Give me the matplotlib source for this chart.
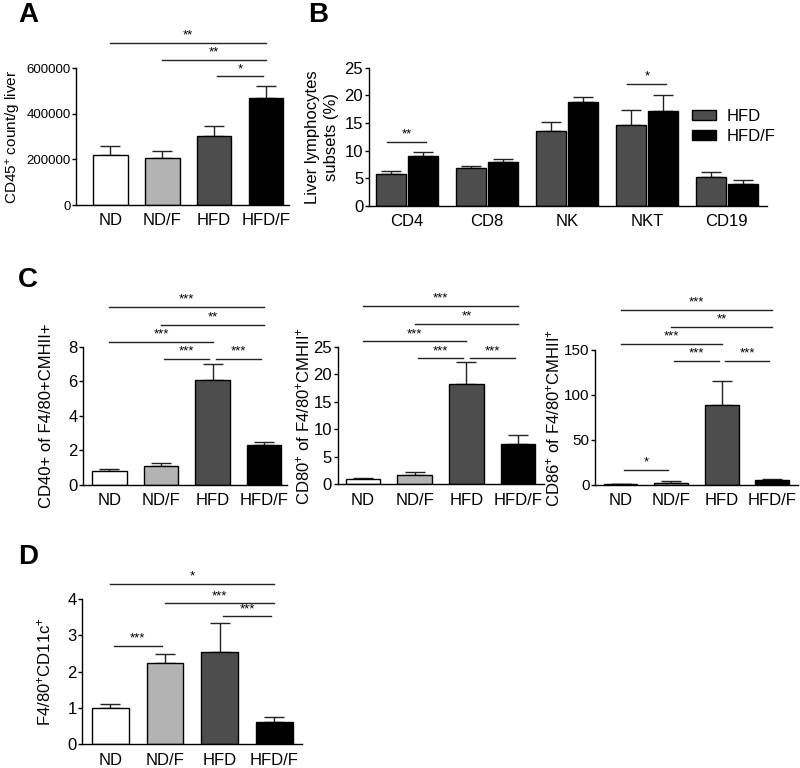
import matplotlib
matplotlib.use("Agg")
import matplotlib.pyplot as plt
from matplotlib.patches import Patch

plt.rcParams['font.family'] = ['Liberation Sans', 'DejaVu Sans']
plt.rcParams['mathtext.fontset'] = 'custom'
plt.rcParams['mathtext.rm'] = 'Liberation Sans'
plt.rcParams['mathtext.default'] = 'regular'

# ---- data ----
groups = ["ND", "ND/F", "HFD", "HFD/F"]
group_colors = ["white", "#b3b3b3", "#4d4d4d", "black"]

# A: CD45+ count / g liver
a_mean = [218000, 206000, 302000, 470000]
a_err = [42000, 31000, 47000, 54000]
a_sig = [(0, 3, 712000, "**"), (1, 3, 636000, "**"), (2, 3, 565000, "*")]

# B: liver lymphocyte subsets
b_subsets = ["CD4", "CD8", "NK", "NKT", "CD19"]
b_hfd = [5.75, 6.77, 13.5, 14.7, 5.25]
b_hfd_err = [0.55, 0.5, 1.6, 2.7, 0.8]
b_hfdf = [9.05, 7.86, 18.7, 17.2, 3.9]
b_hfdf_err = [0.7, 0.55, 1.05, 2.85, 0.75]
b_sig = [(0, 11.6, "**"), (3, 22.0, "*")]

# C: CD40 / CD80 / CD86 of F4/80+CMHII+
c40_mean = [0.82, 1.1, 6.1, 2.3]
c40_err = [0.12, 0.2, 0.9, 0.2]
c40_sig = [(0, 3, 10.3, "***"), (1, 3, 9.25, "**"), (0, 2, 8.28, "***"),
           (1, 2, 7.28, "***"), (2, 3, 7.28, "***")]

c80_mean = [0.97, 1.63, 18.2, 7.3]
c80_err = [0.25, 0.55, 4.0, 1.6]
c80_sig = [(0, 3, 32.4, "***"), (1, 3, 29.2, "**"), (0, 2, 26.0, "***"),
           (1, 2, 22.9, "***"), (2, 3, 22.9, "***")]

c86_mean = [0.8, 2.5, 88.5, 5.5]
c86_err = [0.3, 2.0, 27.0, 1.6]
c86_sig = [(0, 3, 194.4, "***"), (1, 3, 175.2, "**"), (0, 2, 156.7, "***"),
           (1, 2, 137.4, "***"), (2, 3, 137.4, "***"), (0, 1, 16.7, "*")]

# D: F4/80+CD11c+
d_mean = [0.99, 2.24, 2.55, 0.625]
d_err = [0.11, 0.24, 0.78, 0.115]
d_sig = [(0, 3, 4.41, "*"), (1, 3, 3.88, "***"), (2, 3, 3.52, "***"),
         (0, 1, 2.71, "***")]

fig = plt.figure(figsize=(8, 7.68), dpi=100)


def style_axis(ax, ylim, yticks, xlim, ysize=12):
    ax.set_ylim(*ylim)
    ax.set_xlim(*xlim)
    ax.set_yticks(yticks)
    for s in ["top", "right"]:
        ax.spines[s].set_visible(False)
    ax.spines["left"].set_linewidth(1.0)
    ax.spines["bottom"].set_linewidth(1.0)
    ax.tick_params(axis="y", length=3, width=1.0, labelsize=ysize, pad=1)
    ax.tick_params(axis="x", length=0, labelsize=12, pad=6)


def sig_lines(ax, sig, gap=0.06):
    for i, j, y, txt in sig:
        x0, x1 = i, j
        if j - i == 1:
            x0 += gap
            x1 -= gap
        ax.plot([x0, x1], [y, y], color="#222222", lw=1.0, clip_on=False)
        ax.annotate(txt, ((x0 + x1) / 2, y), xytext=(0, 1), textcoords="offset points",
                    ha="center", va="bottom", fontsize=9.5, annotation_clip=False)


def four_bar(rect, mean, err, ylim, yticks, ylabel, sig, xlim, labelpad, ysize=12, lsize=12):
    ax = fig.add_axes(rect)
    x = list(range(len(groups)))
    ax.bar(x, mean, width=0.67, color=group_colors, edgecolor="black", linewidth=1.0, zorder=2)
    ax.errorbar(x, mean, yerr=[[0] * len(err), err], fmt="none", ecolor="#222222",
                elinewidth=1.0, capsize=7, capthick=1.0, zorder=1)
    style_axis(ax, ylim, yticks, xlim, ysize)
    ax.set_xticks(x)
    ax.set_xticklabels(groups)
    ax.set_ylabel(ylabel, fontsize=lsize, labelpad=labelpad)
    sig_lines(ax, sig)
    return ax


# A
four_bar([0.095, 0.733, 0.266, 0.178], a_mean, a_err, (0, 600000),
         [0, 200000, 400000, 600000], "CD45$^{+}$ count/g liver", a_sig, (-0.66, 3.44), 2,
         ysize=9.5, lsize=11)

# B
axb = fig.add_axes([0.461, 0.732, 0.4975, 0.180])
xb = list(range(len(b_subsets)))
w = 0.375
xh = [v - w / 2 - 0.016 for v in xb]
xf = [v + w / 2 + 0.016 for v in xb]
axb.bar(xh, b_hfd, width=w, color="#4d4d4d", edgecolor="black", linewidth=1.0, zorder=2)
axb.bar(xf, b_hfdf, width=w, color="black", edgecolor="black", linewidth=1.0, zorder=2)
axb.errorbar(xh, b_hfd, yerr=[[0] * 5, b_hfd_err], fmt="none", ecolor="#222222",
             elinewidth=1.0, capsize=7, capthick=1.0, zorder=1)
axb.errorbar(xf, b_hfdf, yerr=[[0] * 5, b_hfdf_err], fmt="none", ecolor="#222222",
             elinewidth=1.0, capsize=7, capthick=1.0, zorder=1)
style_axis(axb, (0, 25), [0, 5, 10, 15, 20, 25], (-0.475, 4.5))
axb.set_xticks(xb)
axb.set_xticklabels(b_subsets)
axb.set_ylabel("Liver lymphocytes\nsubsets (%)", fontsize=12, labelpad=4, linespacing=1.3)
for i, y, txt in b_sig:
    axb.plot([xh[i] - 0.04, xf[i] + 0.04], [y, y], color="#222222", lw=1.0, clip_on=False)
    axb.annotate(txt, (i, y), xytext=(0, 1), textcoords="offset points",
                 ha="center", va="bottom", fontsize=9.5, annotation_clip=False)
axb.legend(handles=[Patch(facecolor="#4d4d4d", edgecolor="black", label="HFD"),
                    Patch(facecolor="black", edgecolor="black", label="HFD/F")],
           loc="upper left", bbox_to_anchor=(0.775, 0.81), frameon=False, fontsize=12,
           handlelength=1.45, handleheight=0.5, handletextpad=0.6, labelspacing=0.3)

# C
four_bar([0.104, 0.3685, 0.255, 0.180], c40_mean, c40_err, (0, 8), [0, 2, 4, 6, 8],
         "CD40+ of F4/80+CMHII+", c40_sig, (-0.51, 3.45), 10)
four_bar([0.422, 0.3694, 0.258, 0.179], c80_mean, c80_err, (0, 25), [0, 5, 10, 15, 20, 25],
         "CD80$^{+}$ of F4/80$^{+}$CMHII$^{+}$", c80_sig, (-0.49, 3.5), 1)
four_bar([0.744, 0.3685, 0.253, 0.176], c86_mean, c86_err, (0, 150), [0, 50, 100, 150],
         "CD86$^{+}$ of F4/80$^{+}$CMHII$^{+}$", c86_sig, (-0.5, 3.5), 1, ysize=11)

# D
four_bar([0.103, 0.031, 0.274, 0.189], d_mean, d_err, (0, 4), [0, 1, 2, 3, 4],
         "F4/80$^{+}$CD11c$^{+}$", d_sig, (-0.51, 3.5), 10)

# panel letters
for lbl, x, y in [("A", 18, 15), ("B", 308, 15), ("C", 18, 280), ("D", 18, 557)]:
    fig.text(x / 800, 1 - y / 768, lbl, fontsize=20, fontweight="bold", ha="left", va="center")

fig.savefig("out.png", dpi=100)
